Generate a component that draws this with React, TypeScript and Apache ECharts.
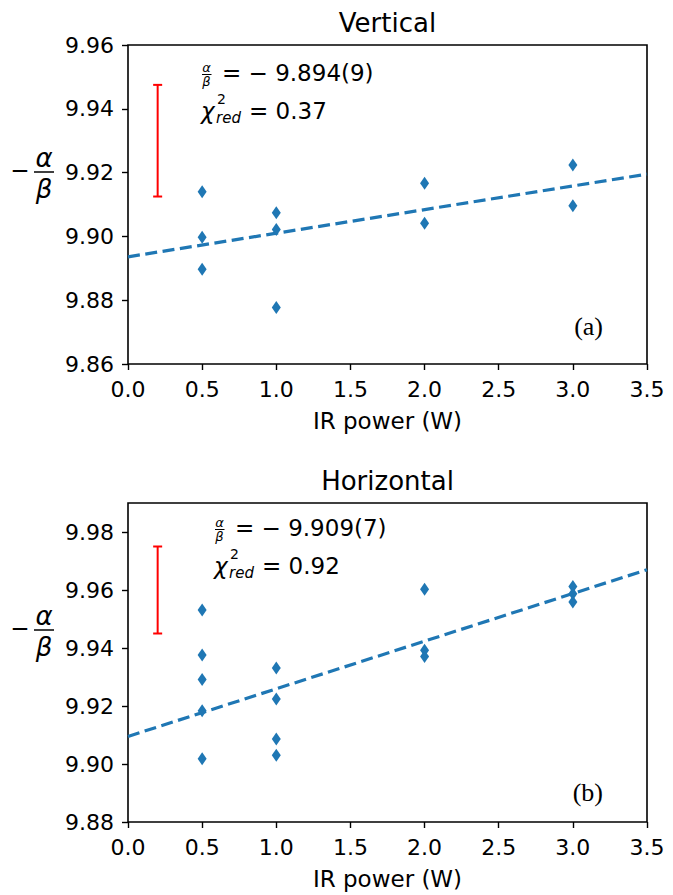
import React, { useEffect, useRef } from "react";
import * as echarts from "echarts";

// ---- data ----
const vertX = [0.5, 0.5, 0.5, 1, 1, 1, 2, 2, 3, 3];
const vertY = [9.914, 9.8997, 9.8897, 9.9074, 9.9022, 9.8777, 9.9167, 9.9041, 9.9224, 9.9096];
const horX = [0.5, 0.5, 0.5, 0.5, 0.5, 1, 1, 1, 1, 2, 2, 2, 3, 3, 3];
const horY = [9.9531, 9.9376, 9.9291, 9.9184, 9.9018, 9.9331, 9.9224, 9.9086, 9.903, 9.9603, 9.9392, 9.9371, 9.9612, 9.9587, 9.9559];
const fitX = [0, 3.5];
const vertFit = [9.8936, 9.9195];
const horFit = [9.9095, 9.967];
const errX = 0.2;
const vertErr = [9.9125, 9.9475];
const horErr = [9.945, 9.975];
const vertYTicks = [9.86, 9.88, 9.9, 9.92, 9.94, 9.96];
const horYTicks = [9.88, 9.9, 9.92, 9.94, 9.96, 9.98];
const titles = ["Vertical", "Horizontal"];
const panelTags = ["(a)", "(b)"];
const ratioTexts = ["= − 9.894(9)", "= − 9.909(7)"];
const chiTexts = ["= 0.37", "= 0.92"];
const xName = "IR power (W)";

const FONT = "DejaVu Sans";
const BLUE = "#1f77b4";

const GRID_LEFT = 128;
const GRID_W = 519;
const GRID_H = 319;
const GRID_TOPS = [45, 503];

function errRender(params: any, api: any) {
  const x = api.value(0);
  const lo = api.coord([x, api.value(1)]);
  const hi = api.coord([x, api.value(2)]);
  const cap = 4.5;
  const st = { stroke: "#ff0000", lineWidth: 2 };
  return {
    type: "group",
    children: [
      { type: "line", shape: { x1: lo[0], y1: lo[1], x2: hi[0], y2: hi[1] }, style: st },
      { type: "line", shape: { x1: lo[0] - cap, y1: lo[1], x2: lo[0] + cap, y2: lo[1] }, style: st },
      { type: "line", shape: { x1: hi[0] - cap, y1: hi[1], x2: hi[0] + cap, y2: hi[1] }, style: st },
    ],
  };
}

function buildGraphics() {
  const els: any[] = [];
  const annX = [201, 214];
  const annDy = [0, 455];
  for (let i = 0; i < 2; i++) {
    const top = GRID_TOPS[i];
    // titles
    els.push({
      type: "text",
      x: GRID_LEFT + GRID_W / 2,
      y: top - 22,
      style: { text: titles[i], font: `26px '${FONT}'`, fill: "#000", align: "center", verticalAlign: "middle" },
    });
    // y label  −α/β
    const by = top + 127;
    els.push({
      type: "text",
      x: 20,
      y: by - 2.5,
      style: { text: "−", font: `23px '${FONT}'`, fill: "#000", align: "center", verticalAlign: "middle" },
    });
    els.push({
      type: "text",
      x: 44,
      y: by - 14,
      style: { text: "α", font: `italic 26px '${FONT}'`, fill: "#000", align: "center", verticalAlign: "middle" },
    });
    els.push({ type: "line", shape: { x1: 34, y1: by, x2: 54, y2: by }, style: { stroke: "#000", lineWidth: 1.5 } });
    els.push({
      type: "text",
      x: 44,
      y: by + 17,
      style: { text: "β", font: `italic 26px '${FONT}'`, fill: "#000", align: "center", verticalAlign: "middle" },
    });
    // annotation: α/β = ...
    const ax = annX[i];
    const dy = annDy[i];
    els.push({
      type: "text",
      x: ax + 5.5,
      y: 67.5 + dy,
      style: { text: "α", font: `italic 13px '${FONT}'`, fill: "#000", align: "center", verticalAlign: "middle" },
    });
    els.push({
      type: "line",
      shape: { x1: ax + 1, y1: 74.5 + dy, x2: ax + 10.5, y2: 74.5 + dy },
      style: { stroke: "#000", lineWidth: 1 },
    });
    els.push({
      type: "text",
      x: ax + 5.5,
      y: 81 + dy,
      style: { text: "β", font: `italic 13px '${FONT}'`, fill: "#000", align: "center", verticalAlign: "middle" },
    });
    els.push({
      type: "text",
      x: ax + 21,
      y: 73 + dy,
      style: { text: ratioTexts[i], font: `23px '${FONT}'`, fill: "#000", align: "left", verticalAlign: "middle" },
    });
    // chi^2_red
    els.push({
      type: "text",
      x: ax,
      y: 111 + dy,
      style: { text: "χ", font: `italic 23px '${FONT}'`, fill: "#000", align: "left", verticalAlign: "middle" },
    });
    els.push({
      type: "text",
      x: ax + 16,
      y: 99 + dy,
      style: { text: "2", font: `14px '${FONT}'`, fill: "#000", align: "left", verticalAlign: "middle" },
    });
    els.push({
      type: "text",
      x: ax + 15,
      y: 118 + dy,
      style: { text: "red", font: `italic 15px '${FONT}'`, fill: "#000", align: "left", verticalAlign: "middle" },
    });
    els.push({
      type: "text",
      x: ax + 48,
      y: 111 + dy,
      style: { text: chiTexts[i], font: `23px '${FONT}'`, fill: "#000", align: "left", verticalAlign: "middle" },
    });
    // panel tag
    els.push({
      type: "text",
      x: 603,
      y: top + 281 + (i === 1 ? 8 : 0),
      style: { text: panelTags[i], font: `26px 'Liberation Serif'`, fill: "#000", align: "right", verticalAlign: "middle" },
    });
  }
  return els;
}

export default function App() {
  const ref = useRef<HTMLDivElement>(null);
  useEffect(() => {
    document.body.style.margin = "0";
    const chart = echarts.init(ref.current!, null, { renderer: "svg" });
    const axisText = { fontSize: 22, color: "#000", fontFamily: FONT };
    const tickStyle = { show: true, length: 6, lineStyle: { color: "#000", width: 1.4 } };
    const xAxes = [0, 1].map((i) => ({
      type: "value",
      gridIndex: i,
      min: 0,
      max: 3.5,
      interval: 0.5,
      name: xName,
      nameLocation: "middle",
      nameGap: 45,
      nameTextStyle: { fontSize: 23, color: "#000", fontFamily: FONT },
      axisLine: { show: false },
      axisTick: tickStyle,
      splitLine: { show: false },
      axisLabel: { ...axisText, margin: 14, formatter: (v: number) => v.toFixed(1) },
    }));
    const yRanges = [
      [vertYTicks[0], 9.96, vertYTicks],
      [horYTicks[0], 9.99, horYTicks],
    ] as any[];
    const yAxes = yRanges.map((r, i) => ({
      type: "value",
      gridIndex: i,
      min: r[0],
      max: r[1],
      interval: 0.02,
      axisLine: { show: false },
      axisTick: { ...tickStyle, customValues: r[2] },
      splitLine: { show: false },
      axisLabel: { ...axisText, margin: 14, customValues: r[2], formatter: (v: number) => v.toFixed(2) },
    }));
    const scatterData = [
      vertX.map((x, k) => [x, vertY[k]]),
      horX.map((x, k) => [x, horY[k]]),
    ];
    const fits = [vertFit, horFit];
    const errs = [vertErr, horErr];
    const series: any[] = [];
    for (let i = 0; i < 2; i++) {
      series.push({
        type: "line",
        xAxisIndex: i,
        yAxisIndex: i,
        data: fitX.map((x, k) => [x, fits[i][k]]),
        showSymbol: false,
        symbol: "none",
        lineStyle: { color: BLUE, width: 3.2, type: [12, 5.5] },
        z: 2,
      });
      series.push({
        type: "scatter",
        xAxisIndex: i,
        yAxisIndex: i,
        data: scatterData[i],
        symbol: "diamond",
        symbolSize: [9, 13],
        itemStyle: { color: BLUE, opacity: 1 },
        z: 3,
      });
      series.push({
        type: "custom",
        xAxisIndex: i,
        yAxisIndex: i,
        renderItem: errRender,
        data: [[errX, errs[i][0], errs[i][1]]],
        encode: { x: 0, y: [1, 2] },
        z: 4,
      });
    }
    chart.setOption({
      animation: false,
      backgroundColor: "#fff",
      grid: GRID_TOPS.map((t) => ({
        left: GRID_LEFT,
        top: t,
        width: GRID_W,
        height: GRID_H,
        show: true,
        borderColor: "#000",
        borderWidth: 1.6,
        backgroundColor: "transparent",
      })),
      xAxis: xAxes,
      yAxis: yAxes,
      series,
      graphic: buildGraphics(),
    });
    return () => chart.dispose();
  }, []);
  return <div ref={ref} style={{ width: 673, height: 895 }} />;
}
